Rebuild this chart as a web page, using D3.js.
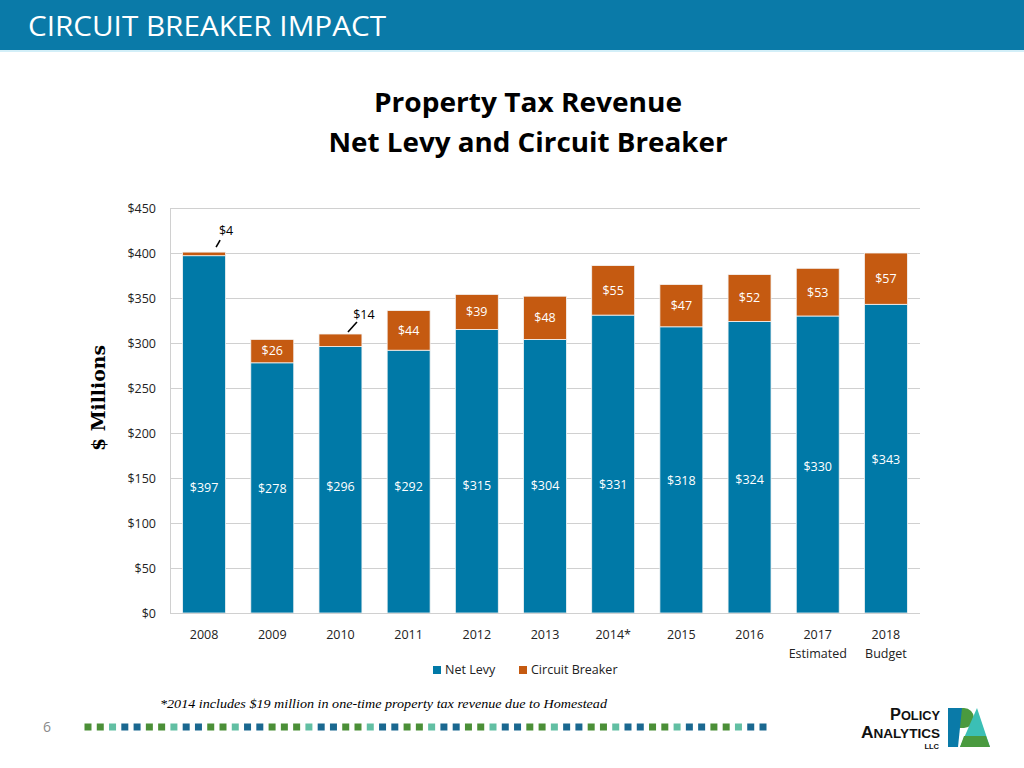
<!DOCTYPE html>
<html>
<head>
<meta charset="utf-8">
<script src="https://cdn.jsdelivr.net/npm/d3@7"></script>
<style>
  html, body { margin: 0; padding: 0; background: #fff; }
  svg { display: block; }
</style>
</head>
<body>
<svg id="chart" width="1024" height="768"></svg>
<script>
// ---------------- DATA ----------------
const years = ["2008", "2009", "2010", "2011", "2012", "2013", "2014*", "2015", "2016", "2017", "2018"];
const yearSubLabels = ["", "", "", "", "", "", "", "", "", "Estimated", "Budget"];
const netLevy = [397, 278, 296, 292, 315, 304, 331, 318, 324, 330, 343];
const circuitBreaker = [4, 26, 14, 44, 39, 48, 55, 47, 52, 53, 57];
const yTicks = [0, 50, 100, 150, 200, 250, 300, 350, 400, 450];
const seriesNames = ["Net Levy", "Circuit Breaker"];
const footnote = "*2014 includes $19 million in one-time property tax revenue due to Homestead";
const dotPattern = "ggtbbggtbbggtbbgggtbbggtbbggtbbggtbbggtbbggtbbggtbbggtbb";

// ---------------- LAYOUT / STYLE ----------------
const W = 1024, H = 768;
const plot = { left: 170, right: 920, top: 208, bottom: 613 };
const colors = { net: "#0079a7", cb: "#c55a11", header: "#0a7aa8", grid: "#d0d0d0" };
// vertical anchor (in $ units) of the net levy labels as placed in the original slide
const netLabelAt = [139, 138, 140, 140, 142, 142, 143, 147, 148, 163, 170];
// callouts for circuit breaker labels that sit outside their small segment
const callouts = {
  0: { lx: 22, ly: -21, x1: 12, y1: -5, x2: 16, y2: -12 },
  2: { lx: 23.5, ly: -19, x1: 7.5, y1: -2, x2: 16.5, y2: -12 }
};
const dotColors = { g: "#4b8f37", t: "#62bfa3", b: "#1a6890" };

const svg = d3.select("#chart");

// header
svg.append("rect").attr("x", 0).attr("y", 0).attr("width", W).attr("height", 50).attr("fill", colors.header);
svg.append("rect").attr("x", 0).attr("y", 50).attr("width", W).attr("height", 2).attr("fill", "#d3eff8");
svg.append("text").attr("x", 28).attr("y", 36)
  .attr("font-family", "'Open Sans', sans-serif").attr("font-size", 27).attr("fill", "#fff")
  .attr("textLength", 358).attr("lengthAdjust", "spacingAndGlyphs")
  .text("CIRCUIT BREAKER IMPACT");

// title
const titleG = svg.append("g").attr("font-family", "'Open Sans', sans-serif").attr("font-weight", "bold")
  .attr("font-size", 26).attr("fill", "#000").attr("text-anchor", "middle");
titleG.append("text").attr("x", 528).attr("y", 112).attr("textLength", 308).attr("lengthAdjust", "spacingAndGlyphs").text("Property Tax Revenue");
titleG.append("text").attr("x", 528).attr("y", 152).attr("textLength", 399).attr("lengthAdjust", "spacingAndGlyphs").text("Net Levy and Circuit Breaker");

// scales
const x = d3.scaleBand().domain(years).range([plot.left, plot.right]).paddingInner(0.37).paddingOuter(0.185);
const y = d3.scaleLinear().domain([0, 450]).range([plot.bottom, plot.top]);

// gridlines
svg.append("g").selectAll("line").data(yTicks).join("line")
  .attr("x1", plot.left).attr("x2", plot.right)
  .attr("y1", d => y(d) + 0.5).attr("y2", d => y(d) + 0.5)
  .attr("stroke", colors.grid).attr("stroke-width", 1);

// y axis
const yAxis = d3.axisLeft(y).tickValues(yTicks).tickFormat(d => "$" + d).tickSize(0).tickPadding(14);
const yg = svg.append("g").attr("transform", `translate(${plot.left},0)`).call(yAxis);
yg.select(".domain").attr("stroke", colors.grid);
yg.selectAll("text").attr("font-family", "'Open Sans', sans-serif").attr("font-size", 12.5).attr("fill", "#222");

// y axis title
svg.append("text").attr("transform", `translate(105,398) rotate(-90)`)
  .attr("text-anchor", "middle").attr("font-family", "'DejaVu Serif', serif").attr("font-weight", "bold")
  .attr("font-size", 19).attr("fill", "#000")
  .attr("textLength", 106).attr("lengthAdjust", "spacingAndGlyphs").text("$ Millions");

// stacked data
const rows = years.map((yr, i) => ({ year: yr, net: netLevy[i], cb: circuitBreaker[i], i }));
const stack = d3.stack().keys(["net", "cb"])(rows);

const barG = svg.append("g");
stack.forEach((layer, li) => {
  barG.append("g").selectAll("rect").data(layer).join("rect")
    .attr("x", d => x(d.data.year))
    .attr("width", x.bandwidth())
    .attr("y", d => y(d[1]))
    .attr("height", d => y(d[0]) - y(d[1]))
    .attr("fill", li === 0 ? colors.net : colors.cb)
    .attr("stroke", "#f4f4f4").attr("stroke-width", 0.8);
});

// x axis line
svg.append("line").attr("x1", plot.left).attr("x2", plot.right)
  .attr("y1", plot.bottom + 0.5).attr("y2", plot.bottom + 0.5).attr("stroke", colors.grid);

// x axis labels
const xg = svg.append("g").attr("font-family", "'Open Sans', sans-serif").attr("font-size", 12.5).attr("fill", "#222").attr("text-anchor", "middle");
xg.selectAll("text.yr").data(years).join("text").attr("class", "yr")
  .attr("x", d => x(d) + x.bandwidth() / 2).attr("y", 639).text(d => d);
xg.selectAll("text.sub").data(yearSubLabels).join("text").attr("class", "sub")
  .attr("x", (d, i) => x(years[i]) + x.bandwidth() / 2).attr("y", 658).text(d => d);

// net levy labels
svg.append("g").selectAll("text").data(rows).join("text")
  .attr("x", d => x(d.year) + x.bandwidth() / 2)
  .attr("y", d => y(netLabelAt[d.i]))
  .attr("dy", "0.35em").attr("text-anchor", "middle")
  .attr("font-family", "'Open Sans', sans-serif").attr("font-size", 12.5).attr("fill", "#fff")
  .text(d => "$" + d.net);

// circuit breaker labels
const cbG = svg.append("g").attr("font-family", "'Open Sans', sans-serif").attr("font-size", 12.5);
rows.forEach(d => {
  const cx = x(d.year) + x.bandwidth() / 2;
  const c = callouts[d.i];
  if (c) {
    const top = y(d.net + d.cb);
    cbG.append("line").attr("x1", cx + c.x1).attr("y1", top + c.y1).attr("x2", cx + c.x2).attr("y2", top + c.y2)
      .attr("stroke", "#000").attr("stroke-width", 1.6);
    cbG.append("text").attr("x", cx + c.lx).attr("y", top + c.ly).attr("dy", "0.35em")
      .attr("text-anchor", "middle").attr("fill", "#000").text("$" + d.cb);
  } else {
    cbG.append("text").attr("x", cx).attr("y", y(d.net + d.cb / 2)).attr("dy", "0.35em")
      .attr("text-anchor", "middle").attr("fill", "#fff").text("$" + d.cb);
  }
});

// legend
const legend = svg.append("g").attr("font-family", "'Open Sans', sans-serif").attr("font-size", 12.5).attr("fill", "#222");
const legendX = [433, 519];
seriesNames.forEach((name, i) => {
  legend.append("rect").attr("x", legendX[i]).attr("y", 666).attr("width", 8).attr("height", 8)
    .attr("fill", i === 0 ? colors.net : colors.cb);
  legend.append("text").attr("x", legendX[i] + 12).attr("y", 670).attr("dy", "0.35em").text(name);
});

// footnote
svg.append("text").attr("x", 160).attr("y", 708)
  .attr("font-family", "'Liberation Serif', serif").attr("font-style", "italic").attr("font-size", 12.5)
  .attr("textLength", 447).attr("lengthAdjust", "spacingAndGlyphs")
  .attr("fill", "#000").text(footnote);

// page number
svg.append("text").attr("x", 47).attr("y", 727).attr("dy", "0.35em").attr("text-anchor", "middle")
  .attr("font-family", "'Open Sans', sans-serif").attr("font-size", 14).attr("fill", "#8a8a8a").text("6");

// dotted decorative line
const dotX = d3.scaleLinear().domain([0, dotPattern.length - 1]).range([88, 763]);
svg.append("g").selectAll("rect").data(dotPattern.split("")).join("rect")
  .attr("x", (d, i) => dotX(i) - 3.5).attr("y", 723.5).attr("width", 7).attr("height", 7)
  .attr("fill", d => dotColors[d]);

// logo
const logo = svg.append("g").attr("font-family", "'Liberation Sans', sans-serif").attr("font-weight", "bold").attr("fill", "#111");
const t1 = logo.append("text").attr("x", 940).attr("y", 720).attr("text-anchor", "end")
  .attr("textLength", 50).attr("lengthAdjust", "spacingAndGlyphs");
t1.append("tspan").attr("font-size", 16).text("P");
t1.append("tspan").attr("font-size", 12.5).text("OLICY");
const t2 = logo.append("text").attr("x", 940).attr("y", 738).attr("text-anchor", "end")
  .attr("textLength", 79).attr("lengthAdjust", "spacingAndGlyphs");
t2.append("tspan").attr("font-size", 16).text("A");
t2.append("tspan").attr("font-size", 12.5).text("NALYTICS");
logo.append("text").attr("x", 939).attr("y", 749).attr("text-anchor", "end")
  .attr("font-size", 7.5).text("LLC");
// P
logo.append("path").attr("d", "M948,708 L964,708 A10,10 0 0 1 964,728 L958,728 L958,747 L948,747 Z").attr("fill", "#4a9a3f");
logo.append("path").attr("d", "M948,708 L962,708 L958,747 L948,747 Z").attr("fill", "#0a7aa8");
// A
logo.append("path").attr("d", "M977,708 L990,747 L960,747 Z").attr("fill", "#3bbfb5");
logo.append("path").attr("d", "M964,736 L986,736 L990,747 L960,747 Z").attr("fill", "#4a9a3f");
</script>
</body>
</html>
